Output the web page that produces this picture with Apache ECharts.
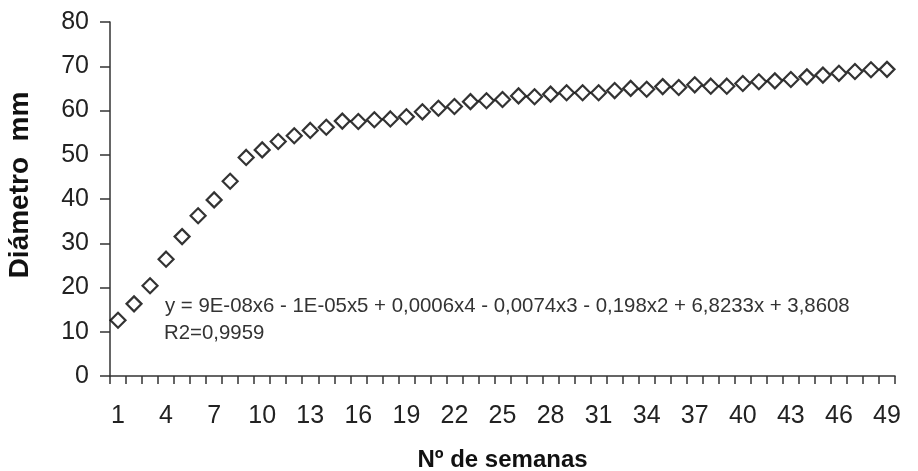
<!DOCTYPE html>
<html>
<head>
<meta charset="utf-8">
<script src="https://cdn.jsdelivr.net/npm/echarts@6/dist/echarts.min.js"></script>
<style>
html,body{margin:0;padding:0;background:#fff;}
#chart{width:918px;height:471px;}
</style>
</head>
<body>
<div id="chart"></div>
<script>
const weeks = ['1','2','3','4','5','6','7','8','9','10','11','12','13','14','15','16','17','18','19','20','21','22','23','24','25','26','27','28','29','30','31','32','33','34','35','36','37','38','39','40','41','42','43','44','45','46','47','48','49'];
const diameter = [12.6, 16.3, 20.4, 26.4, 31.5, 36.2, 39.8, 44.0, 49.4, 51.1, 53.0, 54.3, 55.5, 56.2, 57.6, 57.5, 57.9, 58.1, 58.6, 59.7, 60.5, 60.9, 62.0, 62.2, 62.5, 63.3, 63.1, 63.7, 64.0, 64.0, 64.0, 64.5, 65.0, 64.8, 65.4, 65.2, 65.8, 65.5, 65.5, 66.1, 66.5, 66.7, 67.0, 67.6, 68.0, 68.4, 68.8, 69.2, 69.3];
const yTitle = 'Diámetro  mm';
const xTitle = 'Nº de semanas';
const equationLine1 = 'y = 9E-08x6 - 1E-05x5 + 0,0006x4 - 0,0074x3 - 0,198x2 + 6,8233x + 3,8608';
const equationLine2 = 'R2=0,9959';

const chart = echarts.init(document.getElementById('chart'));
const font = 'Liberation Sans, Arial, sans-serif';
chart.setOption({
  animation: false,
  backgroundColor: '#fff',
  grid: {left: 110, right: 23, top: 22, bottom: 95, containLabel: false, outerBoundsMode: 'none'},
  xAxis: {
    type: 'category',
    data: weeks,
    boundaryGap: true,
    name: xTitle,
    nameLocation: 'middle',
    nameGap: 72,
    nameTextStyle: {fontFamily: font, fontSize: 24, fontWeight: 'bold', color: '#111'},
    axisLine: {show: true, lineStyle: {color: '#333', width: 1.5}},
    axisTick: {show: true, interval: 0, length: 8, lineStyle: {color: '#333', width: 1.5}},
    axisLabel: {interval: 2, margin: 28, fontFamily: font, fontSize: 25, color: '#222'},
    splitLine: {show: false}
  },
  yAxis: {
    type: 'value',
    min: 0, max: 80, interval: 10,
    name: yTitle,
    nameLocation: 'middle',
    nameGap: 76,
    nameRotate: 90,
    nameTextStyle: {fontFamily: font, fontSize: 28, fontWeight: 'bold', color: '#111', padding: [0, 0, 0, 28]},
    axisLine: {show: true, lineStyle: {color: '#333', width: 1.5}},
    axisTick: {show: true, length: 10, lineStyle: {color: '#333', width: 1.5}},
    axisLabel: {margin: 21, fontFamily: font, fontSize: 25, color: '#222'},
    splitLine: {show: false}
  },
  series: [{
    type: 'scatter',
    data: diameter,
    symbol: 'diamond',
    symbolSize: 15,
    itemStyle: {color: '#fff', borderColor: '#000', borderWidth: 2.2}
  }],
  graphic: [
    {type: 'text', left: 165, top: 296, style: {text: equationLine1, font: '20.4px ' + font, fill: '#333'}},
    {type: 'text', left: 164, top: 323, style: {text: equationLine2, font: '20.4px ' + font, fill: '#333'}}
  ]
});
</script>
</body>
</html>
